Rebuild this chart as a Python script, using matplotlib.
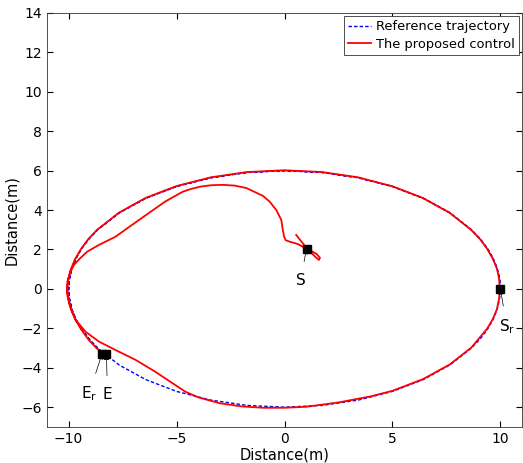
import numpy as np
import matplotlib
matplotlib.use("Agg")
import matplotlib.pyplot as plt

# ---- reference trajectory (ellipse, one lap) ----
lap_x = [10.0, 9.96, 9.85, 9.66, 9.40, 9.06, 8.66, 7.66, 6.43, 5.00, 3.42, 1.74,
         0.00, -1.74, -3.42, -5.00, -6.43, -7.66, -8.66, -9.06, -9.40, -9.66,
         -9.85, -9.96, -10.0, -9.96, -9.85, -9.66, -9.40, -9.06, -8.66, -7.66,
         -6.43, -5.00, -3.42, -1.74, 0.00, 1.74, 3.42, 5.00, 6.43, 7.66, 8.66,
         9.06, 9.40, 9.66, 9.85, 9.96, 10.0]
lap_y = [0.00, 0.52, 1.04, 1.55, 2.05, 2.54, 3.00, 3.86, 4.60, 5.20, 5.64, 5.91,
         6.00, 5.91, 5.64, 5.20, 4.60, 3.86, 3.00, 2.54, 2.05, 1.55,
         1.04, 0.52, 0.00, -0.52, -1.04, -1.55, -2.05, -2.54, -3.00, -3.86,
         -4.60, -5.20, -5.64, -5.91, -6.00, -5.91, -5.64, -5.20, -4.60, -3.86, -3.00,
         -2.54, -2.05, -1.55, -1.04, -0.52, 0.00]
# second lap up to the end point Er
ref_x = lap_x + lap_x[1:31] + [-8.42]
ref_y = lap_y + lap_y[1:31] + [-3.28]

# ---- the proposed control (red) ----
ctrl_x = [0.54, 0.80, 1.02, 1.25, 1.50, 1.64, 1.60, 1.45, 1.25, 1.05, 0.61, 0.23,
          0.06, -0.02, -0.08, -0.15, -0.38, -0.69, -1.00, -1.77, -2.30, -2.86,
          -3.40, -3.90, -4.30, -4.70,
          -5.53, -6.30, -7.06, -7.83, -8.60, -9.14, -9.52, -9.75, -9.91, -10.06,
          -10.08, -9.98, -9.85, -9.68, -9.22, -8.60, -7.83, -6.90, -5.99, -5.07,
          -4.60, -4.00, -3.00, -2.00, -1.00, 0.00, 1.00, 2.50, 4.00, 5.00, 6.43,
          7.66, 8.66, 9.38, 9.65, 9.84, 9.94, 9.97, 9.94, 9.84, 9.64, 9.38, 9.04,
          8.64, 7.64, 6.41, 4.98, 3.41, 1.74, 0.00, -1.74, -3.42, -5.00, -6.43,
          -7.68, -8.68, -9.08, -9.42, -9.70, -9.90, -10.02, -10.06, -10.00,
          -9.88, -9.68, -9.42, -9.06, -8.70, -8.38]
ctrl_y = [2.74, 2.38, 2.07, 1.92, 1.76, 1.58, 1.47, 1.60, 1.82, 2.02, 2.28, 2.40,
          2.47, 2.65, 3.00, 3.50, 4.00, 4.43, 4.72, 5.12, 5.24, 5.28,
          5.26, 5.19, 5.08, 4.94,
          4.43, 3.84, 3.25, 2.65, 2.23, 1.89, 1.50, 1.22, 0.88, 0.37,
          -0.20, -0.75, -1.15, -1.57, -2.17, -2.67, -3.10, -3.60, -4.20, -4.87,
          -5.21, -5.50, -5.80, -5.96, -6.03, -6.03, -5.98, -5.76, -5.45, -5.17, -4.57,
          -3.83, -2.97, -2.03, -1.53, -1.03, -0.50, 0.00, 0.52, 1.04, 1.55, 2.05, 2.55,
          3.00, 3.87, 4.61, 5.21, 5.66, 5.93, 6.02, 5.93, 5.66, 5.22, 4.62,
          3.86, 3.00, 2.54, 2.04, 1.52, 1.00, 0.50, 0.00, -0.52,
          -1.04, -1.57, -2.06, -2.60, -3.02, -3.28]

# marked points and their labels
mark_names = ["S", "S_r", "E_r", "E"]
mark_xy = [(1.02, 2.05), (10.0, 0.0), (-8.45, -3.28), (-8.25, -3.32)]
label_xy = [(0.75, 0.45), (10.3, -1.9), (-9.05, -5.3), (-8.2, -5.35)]

fig = plt.figure(figsize=(5.23, 4.63), dpi=100)
ax = fig.add_axes([0.090, 0.078, 0.908, 0.894])

ax.plot(ref_x, ref_y, color="blue", linestyle="--", linewidth=1.0,
        dashes=(2.5, 1.5), label="Reference trajectory")
ax.plot(ctrl_x, ctrl_y, color="red", linewidth=1.3, label="The proposed control")

for name, (px, py), (tx, ty) in zip(mark_names, mark_xy, label_xy):
    ax.plot(px, py, marker="s", color="black", markersize=5.5)
    if "_" in name:
        text = r"$\mathregular{%s_%s}$" % (name[0], name[2])
    else:
        text = name
    ax.annotate(text, xy=(px, py), xytext=(tx, ty), fontsize=11,
                ha="center", va="center",
                arrowprops=dict(arrowstyle="-|>", color="black", lw=0.5,
                                mutation_scale=8, shrinkA=6, shrinkB=0))

ax.set_xlim(-11, 11)
ax.set_ylim(-7, 14)
ax.set_xticks([-10, -5, 0, 5, 10])
ax.set_yticks(np.arange(-6, 15, 2))
ax.tick_params(direction="in", top=True, right=True, labelsize=10, length=4)
ax.set_xlabel("Distance(m)", fontsize=10.5, labelpad=1)
ax.set_ylabel("Distance(m)", fontsize=10.5, labelpad=2)
for sp in ax.spines.values():
    sp.set_linewidth(0.6)
    sp.set_color("#333333")

leg = ax.legend(loc="upper right", fontsize=9.4, handlelength=1.7,
                borderaxespad=0.2, fancybox=False, framealpha=1,
                edgecolor="#333333", borderpad=0.35, labelspacing=0.35,
                handletextpad=0.4)
leg.get_frame().set_linewidth(0.6)

fig.savefig("out.png", dpi=100)
